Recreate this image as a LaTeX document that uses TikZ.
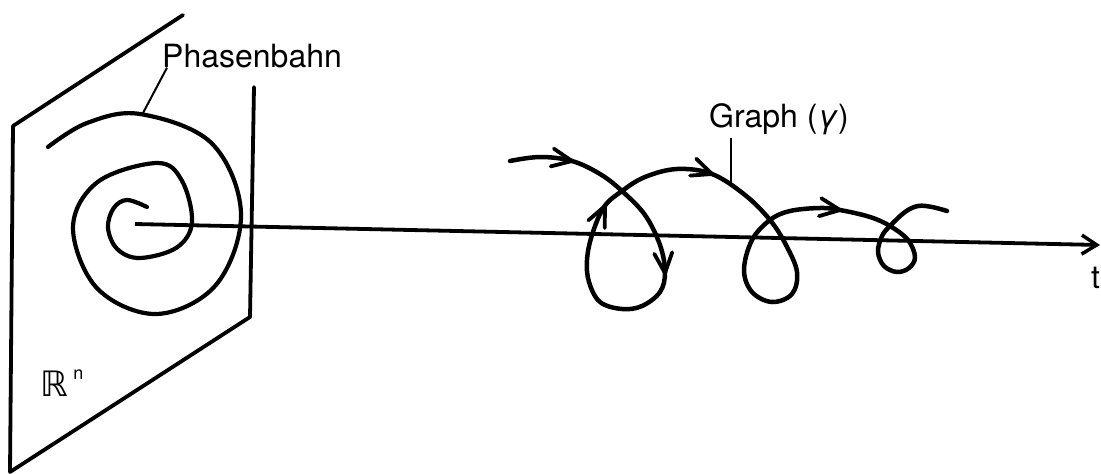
\documentclass[tikz,border=0pt]{standalone}
\usepackage{fontspec}
\setmainfont{TeX Gyre Heros}
\newfontfamily\symfont{DejaVu Sans}
\usetikzlibrary{arrows.meta}
\tikzset{
  plane/.style={line width=3.8pt, line join=round, line cap=round},
  orbit/.style={line width=4.2pt, line cap=round},
  graphline/.style={line width=4.5pt, line cap=round, line join=round},
  taxis/.style={line width=3.8pt, -{Straight Barb[length=15pt,width=19pt,line width=3.5pt]}},
  leader/.style={line width=2pt},
  lbl/.style={font=\fontsize{32}{38}\selectfont, inner sep=0pt},
  vtip/.style={line width=3.8pt, line cap=round, line join=miter},
}
\newcommand{\dirtip}[3]{\draw[vtip, shift={(#1,#2)}, rotate=#3] (-20,9) -- (0,0) -- (-20,-9);}

\begin{document}
\begin{tikzpicture}[x=1pt,y=-1pt]
  \useasboundingbox (0,0) rectangle (1101,474);
  % phase space
  \draw[plane] (183,15) -- (13,126) -- (10,472) -- (250,317) -- (254,87);
  \node[lbl, anchor=base west] (rnlabel) at (40,396)
    {{\symfont\fontsize{35}{40}\selectfont ℝ}\,\raisebox{17pt}{\fontsize{18}{20}\selectfont n}};
  % orbit in the plane
  \draw[orbit] plot[smooth, tension=0.6] coordinates {
    (147,207) (127,200) (113.6,208.2) (108,228) (117.4,249.2) (140,258)
    (176.8,247.5) (192,222) (181.7,180.3) (157,163) (97.6,182) (73,228)
    (97.6,288.8) (157,314) (216.4,284.4) (241,213) (211.4,143) (140,114)
    (87,123) (48,147)};
  \node[lbl, anchor=base west] (phlabel) at (162,67) {Phasenbahn};
  \coordinate (phfoot) at (143,113);
  \draw[leader] (phfoot) -- ([xshift=5pt]phlabel.south west);
  % time axis
  \coordinate (origin) at (135,224);
  \coordinate (tend) at (1100,245);
  \draw[taxis] (origin) -- (tend);
  \node[lbl, anchor=base west] (tlabel) at (1091,288) {t};
  % graph of the solution
  \draw[graphline] plot[smooth, tension=0.6] coordinates {
    (510,161) (540,157) (572,161) (600,174) (622,191) (645,215) (660,245)
    (665,272) (660,292) (642,306) (622,309) (600,302) (589,282) (587,260)
    (592,235) (604,207) (622,191) (645,177) (677,169) (712,174) (745,195)
    (770,220) (786,245) (797,272) (792,294) (772,302) (752,292) (744,270)
    (752,240) (770,220) (790,211) (820,208) (840,210) (870,217) (890,226)
    (908,240) (915,257) (909,268) (897,272) (884,266) (878,252) (882,236)
    (890,226) (905,212) (918,206) (932,207) (947,211)};
  \dirtip{572}{161}{-10}
  \dirtip{665}{273}{-85}
  \dirtip{605}{206}{65}
  \dirtip{712}{174}{-20}
  \dirtip{840}{210}{-8}
  \node[lbl, anchor=base west] (grlabel) at (709,127) {Graph ({\itshape γ})};
  \coordinate (grfoot) at (731,185);
  \draw[leader] ([xshift=22pt, yshift=-3pt]grlabel.south west) -- (grfoot);
\end{tikzpicture}
\end{document}
